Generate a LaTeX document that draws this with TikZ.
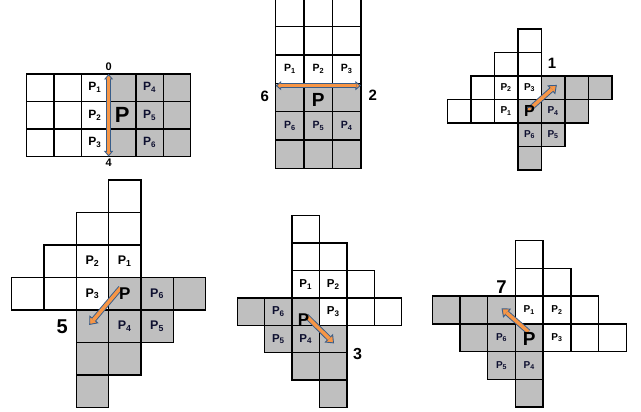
\documentclass[tikz,border=0pt]{standalone}
\usepackage{fontspec}
\setmainfont{Liberation Sans}
\usetikzlibrary{arrows.meta}

\definecolor{cellgray}{RGB}{191,191,191}
\definecolor{arroworange}{RGB}{247,150,70}
\definecolor{arrowedge}{RGB}{56,93,138}
\definecolor{labelnavy}{RGB}{14,16,48}

\tikzset{
    wcell/.style={draw=black,line width=1.4pt,fill=white},
    gcell/.style={draw=black,line width=1.4pt,fill=cellgray},
    lab/.style={font=\bfseries,inner sep=0pt},
    glab/.style={lab,text=labelnavy},
    bigp/.style={font=\bfseries,inner sep=0pt},
    numlab/.style={font=\bfseries,inner sep=0pt},
    movearrow/.style={draw=arrowedge,line width=5.4pt,
        -{Triangle[length=7.5pt,width=12pt,fill=arroworange,line width=0.9pt]},
        postaction={draw=arroworange,line width=3.5pt,-,shorten >=6.5pt}},
    bidarrow/.style={draw=arrowedge,line width=4.4pt,
        {Triangle[length=5.5pt,width=9pt,fill=arroworange,line width=0.9pt]}-{Triangle[length=5.5pt,width=9pt,fill=arroworange,line width=0.9pt]},
        postaction={draw=arroworange,line width=2.6pt,-,shorten >=4.5pt,shorten <=4.5pt}}
}

\begin{document}
\begin{tikzpicture}[x=1pt,y=-1pt]
    \useasboundingbox (0,0) rectangle (641,412);

    % direction 0 / 4
    \begin{scope}[xshift=26.7pt,yshift=-74pt,x=27.3pt,y=-27.5pt,
        lab/.append style={font=\bfseries\fontsize{12}{12}\selectfont},
        bigp/.append style={font=\bfseries\fontsize{22}{22}\selectfont},
        numlab/.append style={font=\bfseries\fontsize{11}{11}\selectfont}]
        \foreach \c in {0,1,2} \foreach \r in {0,1,2}
            \draw[wcell] (\c,\r) rectangle ++(1,1);
        \foreach \c in {3,4,5} \foreach \r in {0,1,2}
            \draw[gcell] (\c,\r) rectangle ++(1,1);
        \coordinate (s1a) at (3,0);
        \coordinate (s1b) at (3,3);
        \draw[bidarrow] (s1b) -- (s1a);
        \node[lab] (s1p1) at (2.5,0.5) {P\textsubscript{1}};
        \node[lab] (s1p2) at (2.5,1.5) {P\textsubscript{2}};
        \node[lab] (s1p3) at (2.5,2.5) {P\textsubscript{3}};
        \node[bigp] (s1p) at (3.5,1.5) {P};
        \node[glab] (s1p4) at (4.5,0.5) {P\textsubscript{4}};
        \node[glab] (s1p5) at (4.5,1.5) {P\textsubscript{5}};
        \node[glab] (s1p6) at (4.5,2.5) {P\textsubscript{6}};
        \node[numlab] (s1n0) at (3,-0.25) {0};
        \node[numlab] (s1n4) at (3,3.24) {4};
    \end{scope}

    % direction 6 / 2
    \begin{scope}[xshift=275.7pt,yshift=1.8pt,x=28.4pt,y=-28.4pt,
        lab/.append style={font=\bfseries\fontsize{10.5}{10.5}\selectfont},
        bigp/.append style={font=\bfseries\fontsize{19}{19}\selectfont},
        numlab/.append style={font=\bfseries\fontsize{15}{15}\selectfont}]
        \foreach \c in {0,1,2} \foreach \r in {0,1,2}
            \draw[wcell] (\c,\r) rectangle ++(1,1);
        \foreach \c in {0,1,2} \foreach \r in {3,4,5}
            \draw[gcell] (\c,\r) rectangle ++(1,1);
        \coordinate (s2a) at (0,3.08);
        \coordinate (s2b) at (3,3.08);
        \draw[bidarrow] (s2a) -- (s2b);
        \node[lab] (s2p1) at (0.5,2.5) {P\textsubscript{1}};
        \node[lab] (s2p2) at (1.5,2.5) {P\textsubscript{2}};
        \node[lab] (s2p3) at (2.5,2.5) {P\textsubscript{3}};
        \node[bigp] (s2p) at (1.5,3.6) {P};
        \node[glab] (s2p6) at (0.5,4.5) {P\textsubscript{6}};
        \node[glab] (s2p5) at (1.5,4.5) {P\textsubscript{5}};
        \node[glab] (s2p4) at (2.5,4.5) {P\textsubscript{4}};
        \node[numlab] (s2n6) at (-0.38,3.44) {6};
        \node[numlab] (s2n2) at (3.42,3.41) {2};
    \end{scope}

    % direction 1
    \begin{scope}[xshift=447.3pt,yshift=-29pt,x=23.5pt,y=-23.5pt,
        lab/.append style={font=\bfseries\fontsize{10}{10}\selectfont},
        bigp/.append style={font=\bfseries\fontsize{16}{16}\selectfont},
        numlab/.append style={font=\bfseries\fontsize{15}{15}\selectfont}]
        \foreach \c/\r in {3/0,2/1,3/1,1/2,2/2,3/2,0/3,1/3,2/3}
            \draw[wcell] (\c,\r) rectangle ++(1,1);
        \foreach \c/\r in {4/2,5/2,6/2,3/3,4/3,5/3,3/4,4/4,3/5}
            \draw[gcell] (\c,\r) rectangle ++(1,1);
        \coordinate (s3a) at (3.49,3.42);
        \coordinate (s3b) at (4.66,2.38);
        \draw[movearrow] (s3a) -- (s3b);
        \node[circle,draw=arrowedge,fill=arroworange,line width=0.6pt,
            minimum size=4.5pt,inner sep=0pt] (s3dot) at (s3a) {};
        \node[lab] (s3p2) at (2.5,2.5) {P\textsubscript{2}};
        \node[lab] (s3p3) at (3.5,2.5) {P\textsubscript{3}};
        \node[lab] (s3p1) at (2.5,3.5) {P\textsubscript{1}};
        \node[bigp] (s3p) at (3.5,3.5) {P};
        \node[glab] (s3p4) at (4.5,3.5) {P\textsubscript{4}};
        \node[glab] (s3p6) at (3.5,4.5) {P\textsubscript{6}};
        \node[glab] (s3p5) at (4.5,4.5) {P\textsubscript{5}};
        \node[numlab] (s3n1) at (4.46,1.45) {1};
    \end{scope}

    % direction 5
    \begin{scope}[xshift=11.7pt,yshift=-180pt,x=32.3pt,y=-32.5pt,
        lab/.append style={font=\bfseries\fontsize{12.5}{12.5}\selectfont},
        bigp/.append style={font=\bfseries\fontsize{17}{17}\selectfont},
        numlab/.append style={font=\bfseries\fontsize{20}{20}\selectfont}]
        \foreach \c/\r in {3/0,2/1,3/1,1/2,2/2,3/2,0/3,1/3,2/3}
            \draw[wcell] (\c,\r) rectangle ++(1,1);
        \foreach \c/\r in {3/3,4/3,5/3,2/4,3/4,4/4,2/5,3/5,2/6}
            \draw[gcell] (\c,\r) rectangle ++(1,1);
        \coordinate (s4a) at (3.37,3.32);
        \coordinate (s4b) at (2.40,4.46);
        \draw[movearrow] (s4a) -- (s4b);
        \node[lab] (s4p2) at (2.5,2.5) {P\textsubscript{2}};
        \node[lab] (s4p1) at (3.5,2.5) {P\textsubscript{1}};
        \node[lab] (s4p3) at (2.5,3.5) {P\textsubscript{3}};
        \node[bigp] (s4p) at (3.5,3.5) {P};
        \node[glab] (s4p6) at (4.5,3.5) {P\textsubscript{6}};
        \node[glab] (s4p4) at (3.5,4.5) {P\textsubscript{4}};
        \node[glab] (s4p5) at (4.5,4.5) {P\textsubscript{5}};
        \node[numlab] (s4n5) at (1.56,4.52) {5};
    \end{scope}

    % direction 3
    \begin{scope}[xshift=237.3pt,yshift=-215.7pt,x=27.4pt,y=-27.4pt,
        lab/.append style={font=\bfseries\fontsize{11.5}{11.5}\selectfont},
        bigp/.append style={font=\bfseries\fontsize{17}{17}\selectfont},
        numlab/.append style={font=\bfseries\fontsize{16}{16}\selectfont}]
        \foreach \c/\r in {2/0,2/1,3/1,2/2,3/2,4/2,3/3,4/3,5/3}
            \draw[wcell] (\c,\r) rectangle ++(1,1);
        \foreach \c/\r in {0/3,1/3,2/3,1/4,2/4,3/4,2/5,3/5,3/6}
            \draw[gcell] (\c,\r) rectangle ++(1,1);
        \coordinate (s5a) at (2.52,3.66);
        \coordinate (s5b) at (3.53,4.66);
        \draw[movearrow] (s5a) -- (s5b);
        \node[lab] (s5p1) at (2.5,2.5) {P\textsubscript{1}};
        \node[lab] (s5p2) at (3.5,2.5) {P\textsubscript{2}};
        \node[glab] (s5p6) at (1.5,3.5) {P\textsubscript{6}};
        \node[bigp] (s5p) at (2.42,3.8) {P};
        \node[lab] (s5p3) at (3.5,3.5) {P\textsubscript{3}};
        \node[glab] (s5p5) at (1.5,4.5) {P\textsubscript{5}};
        \node[glab] (s5p4) at (2.5,4.5) {P\textsubscript{4}};
        \node[numlab] (s5n3) at (4.39,5.05) {3};
    \end{scope}

    % direction 7
    \begin{scope}[xshift=432.3pt,yshift=-240.7pt,x=27.7pt,y=-27.7pt,
        lab/.append style={font=\bfseries\fontsize{10}{10}\selectfont},
        bigp/.append style={font=\bfseries\fontsize{19}{19}\selectfont},
        numlab/.append style={font=\bfseries\fontsize{18.5}{18.5}\selectfont}]
        \foreach \c/\r in {3/0,3/1,4/1,3/2,4/2,5/2,4/3,5/3,6/3}
            \draw[wcell] (\c,\r) rectangle ++(1,1);
        \foreach \c/\r in {0/2,1/2,2/2,1/3,2/3,3/3,2/4,3/4,3/5}
            \draw[gcell] (\c,\r) rectangle ++(1,1);
        \coordinate (s6a) at (3.47,3.29);
        \coordinate (s6b) at (2.5,2.44);
        \draw[movearrow] (s6a) -- (s6b);
        \node[lab] (s6p1) at (3.5,2.5) {P\textsubscript{1}};
        \node[lab] (s6p2) at (4.5,2.5) {P\textsubscript{2}};
        \node[glab] (s6p6) at (2.5,3.5) {P\textsubscript{6}};
        \node[bigp] (s6p) at (3.5,3.56) {P};
        \node[lab] (s6p3) at (4.5,3.5) {P\textsubscript{3}};
        \node[glab] (s6p5) at (2.5,4.5) {P\textsubscript{5}};
        \node[glab] (s6p4) at (3.5,4.5) {P\textsubscript{4}};
        \node[numlab] (s6n7) at (2.5,1.68) {7};
    \end{scope}
\end{tikzpicture}
\end{document}
